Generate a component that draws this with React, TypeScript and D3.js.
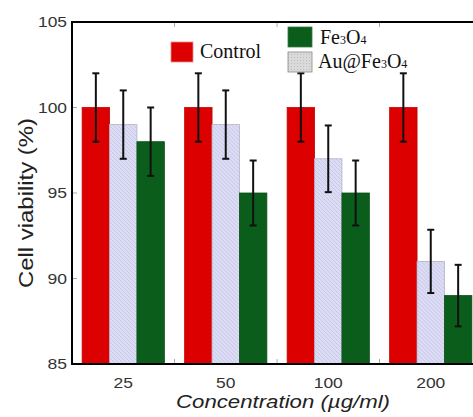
import * as d3 from "d3";
import React from "react";

// concentrations (µg/ml) on the x axis
const concentrations = ["25", "50", "100", "200"];

// cell viability (%) per series, with error bar half-widths
const controlVals = [100, 100, 100, 100];
const controlErr = [2, 2, 2, 2];
const auFeVals = [99, 99, 97, 91];
const auFeErr = [2, 2, 1.95, 1.85];
const feVals = [98, 95, 95, 89];
const feErr = [2, 1.9, 1.9, 1.8];

const yTicks = [85, 90, 95, 100, 105];

const W = 473;
const H = 417;

type Series = { key: string; vals: number[]; err: number[]; fill: string; stroke: string };

const series: Series[] = [
  { key: "control", vals: controlVals, err: controlErr, fill: "#dd0000", stroke: "#c40000" },
  { key: "aufe", vals: auFeVals, err: auFeErr, fill: "url(#hatch)", stroke: "#b2b2c6" },
  { key: "fe", vals: feVals, err: feErr, fill: "#0b5d1c", stroke: "#0a4f18" },
];

export default function App() {
  const left = 72, right = 482, top = 22, bottom = 364;

  const x0 = d3.scaleBand<string>().domain(concentrations).range([left, right]).paddingInner(0);
  const x1 = d3.scaleBand<string>()
    .domain(series.map(s => s.key))
    .range([0, x0.bandwidth()])
    .paddingInner(0)
    .paddingOuter(0.37);
  const y = d3.scaleLinear().domain([85, 105]).range([bottom, top]);

  const sans = "'Liberation Sans', Arial, sans-serif";
  const serif = "'Liberation Serif', 'Times New Roman', serif";

  // boundaries between groups for the small top/bottom ticks
  const between = concentrations.slice(1).map(c => x0(c)!);

  return (
    <svg width={W} height={H} style={{ position: "absolute", left: 0, top: 0, background: "#fff" }}>
      <defs>
        <pattern id="hatch" patternUnits="userSpaceOnUse" width="4" height="4">
          <rect width="4" height="4" fill="#dcdcf5" />
          <path d="M-1,-1 L5,5 M-1,3 L1,5 M3,-1 L5,1" stroke="#c6c6e6" strokeWidth="0.9" />
        </pattern>
        <pattern id="dots" patternUnits="userSpaceOnUse" width="3" height="3">
          <rect width="3" height="3" fill="#dadada" />
          <rect width="1" height="1" fill="#bdbdbd" />
        </pattern>
      </defs>

      {/* bars */}
      {concentrations.map((c, i) => (
        <g key={c} transform={`translate(${x0(c)},0)`}>
          {series.map(s => (
            <rect
              key={s.key}
              x={x1(s.key)}
              y={y(s.vals[i])}
              width={x1.bandwidth()}
              height={y(85) - y(s.vals[i])}
              fill={s.fill}
              stroke={s.stroke}
              strokeWidth={0.8}
            />
          ))}
        </g>
      ))}

      {/* error bars */}
      {concentrations.map((c, i) => (
        <g key={c} transform={`translate(${x0(c)},0)`}>
          {series.map(s => {
            const cx = x1(s.key)! + x1.bandwidth() / 2;
            const hi = y(s.vals[i] + s.err[i]);
            const lo = y(s.vals[i] - s.err[i]);
            return (
              <g key={s.key} stroke="#111" strokeWidth={2}>
                <line x1={cx} x2={cx} y1={hi} y2={lo} />
                <line x1={cx - 3.5} x2={cx + 3.5} y1={hi} y2={hi} />
                <line x1={cx - 3.5} x2={cx + 3.5} y1={lo} y2={lo} />
              </g>
            );
          })}
        </g>
      ))}

      {/* minor ticks */}
      {yTicks.slice(1, -1).map(t => (
        <line key={t} x1={left} x2={left + 5} y1={y(t)} y2={y(t)} stroke="#aaa" strokeWidth={1} />
      ))}
      {between.map(bx => (
        <g key={bx} stroke="#aaa" strokeWidth={1}>
          <line x1={bx} x2={bx} y1={top} y2={top + 5} />
          <line x1={bx} x2={bx} y1={bottom} y2={bottom - 5} />
        </g>
      ))}

      {/* frame */}
      <path
        d={`M${right},${top} L${left},${top} L${left},${bottom} L${right},${bottom}`}
        fill="none"
        stroke="#000"
        strokeWidth={2}
      />

      {/* y tick labels */}
      {yTicks.map(t => (
        <text
          key={t}
          x={67}
          y={y(t) + 5}
          textAnchor="end"
          fontFamily={sans}
          fontSize={14}
          fill="#333"
          textLength={t >= 100 ? 29 : 19.5}
          lengthAdjust="spacingAndGlyphs"
        >
          {t}
        </text>
      ))}

      {/* x tick labels */}
      {concentrations.map(c => (
        <text
          key={c}
          x={x0(c)! + x0.bandwidth() / 2}
          y={388}
          textAnchor="middle"
          fontFamily={sans}
          fontSize={14}
          fill="#333"
          textLength={c.length * 9.7}
          lengthAdjust="spacingAndGlyphs"
        >
          {c}
        </text>
      ))}

      {/* axis titles */}
      <text
        x={176}
        y={408}
        fontFamily={sans}
        fontSize={18.5}
        fontStyle="italic"
        fill="#222"
        textLength={214}
        lengthAdjust="spacingAndGlyphs"
      >
        Concentration (µg/ml)
      </text>
      <text
        transform={`translate(33,288) rotate(-90)`}
        fontFamily={sans}
        fontSize={20}
        fill="#222"
        textLength={170}
        lengthAdjust="spacingAndGlyphs"
      >
        Cell viability (%)
      </text>

      {/* legend */}
      <rect x={171} y={42} width={22} height={20} fill="#dd0000" stroke="#e88" strokeWidth={0.8} />
      <text x={200} y={58} fontFamily={serif} fontSize={20} fill="#111">Control</text>

      <rect x={288} y={27} width={24} height={20} fill="#0b5d1c" stroke="#3a7a46" strokeWidth={0.8} />
      <text x={320} y={44} fontFamily={serif} fontSize={20} fill="#111">
        Fe<tspan fontSize={12}>3</tspan>O<tspan fontSize={12}>4</tspan>
      </text>

      <rect x={288} y={52} width={24} height={20} fill="url(#dots)" stroke="#888" strokeWidth={0.8} />
      <text x={318} y={68} fontFamily={serif} fontSize={20} fill="#111">
        Au@Fe<tspan fontSize={12}>3</tspan>O<tspan fontSize={12}>4</tspan>
      </text>
    </svg>
  );
}
